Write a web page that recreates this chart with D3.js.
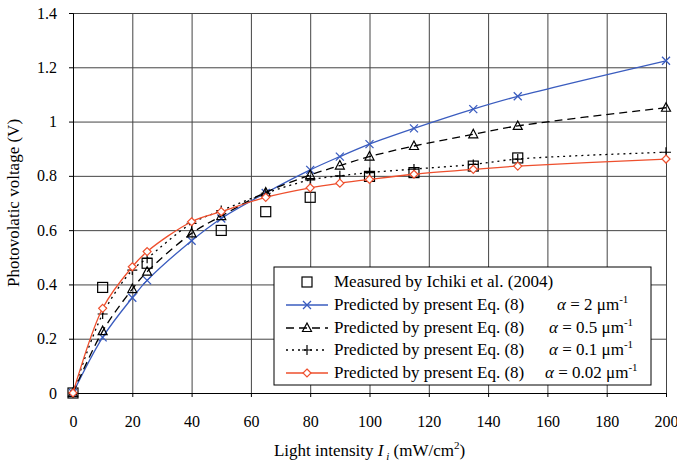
<!DOCTYPE html>
<html><head><meta charset="utf-8">
<script src="https://cdn.jsdelivr.net/npm/d3@7"></script>
<style>
  svg text, svg tspan { font-family: "Liberation Serif" !important; }
</style></head>
<body style="margin:0">
<div class="plot"></div>
<script>
// light intensity values (mW/cm2)
const xPred = [0, 10, 20, 25, 40, 50, 65, 80, 90, 100, 115, 135, 150, 200];
const xMeas = [0, 10, 25, 50, 65, 80, 100, 115, 135, 150];

// measured by Ichiki et al.
const measured = [0, 0.389, 0.478, 0.599, 0.668, 0.721, 0.798, 0.812, 0.836, 0.866];

// predicted, different alpha
const alpha2   = [0, 0.205, 0.351, 0.415, 0.561, 0.643, 0.737, 0.822, 0.871, 0.917, 0.975, 1.046, 1.093, 1.224];
const alpha05  = [0, 0.228, 0.383, 0.447, 0.588, 0.652, 0.739, 0.803, 0.838, 0.871, 0.910, 0.953, 0.984, 1.051];
const alpha01  = [0, 0.291, 0.453, 0.496, 0.625, 0.672, 0.736, 0.785, 0.800, 0.812, 0.825, 0.842, 0.862, 0.887];
const alpha002 = [0, 0.312, 0.465, 0.521, 0.631, 0.668, 0.721, 0.756, 0.773, 0.787, 0.806, 0.824, 0.836, 0.862];

const xTicks = [0, 20, 40, 60, 80, 100, 120, 140, 160, 180, 200];
const yTicks = [0, 0.2, 0.4, 0.6, 0.8, 1, 1.2, 1.4];

const serif = "Liberation Serif";
const W = 677, H = 466;
const margin = { top: 13, right: 11, bottom: 73, left: 73 };
const iw = W - margin.left - margin.right,
    ih = H - margin.top - margin.bottom;

const root = d3.select(".plot").append("svg").attr("width", W).attr("height", H);
const svg = root.append("g").attr("transform", "translate(" + margin.left + "," + margin.top + ")");

const xScale = d3.scaleLinear().domain([0, 200]).range([0, iw]);
const yScale = d3.scaleLinear().domain([0, 1.4]).range([ih, 0]);

// grid lines
svg.append("g")
    .attr("transform", "translate(0," + ih + ")")
    .call(d3.axisBottom(xScale).tickValues(xTicks).tickSize(-ih).tickFormat(""))
    .call(g => g.select(".domain").remove())
    .selectAll("line").attr("stroke", "#444");
svg.append("g")
    .call(d3.axisLeft(yScale).tickValues(yTicks).tickSize(-iw).tickFormat(""))
    .call(g => g.select(".domain").remove())
    .selectAll("line").attr("stroke", "#444");

// axes
const xAxis = svg.append("g")
    .attr("transform", "translate(0," + ih + ")")
    .call(d3.axisBottom(xScale).tickValues(xTicks).tickSize(4).tickPadding(19));
xAxis.attr("font-size", 16).attr("font-family", serif);
xAxis.selectAll("text").attr("fill", "#000");
xAxis.selectAll("line, path").attr("stroke", "#000");

const yAxis = svg.append("g")
    .call(d3.axisLeft(yScale).tickValues(yTicks).tickSize(4).tickPadding(12)
        .tickFormat(d => String(+d.toFixed(1))));
yAxis.attr("font-size", 16).attr("font-family", serif);
yAxis.selectAll("text").attr("fill", "#000");
yAxis.selectAll("line, path").attr("stroke", "#000");

// axis titles
const xt = svg.append("text")
    .attr("text-anchor", "middle")
    .attr("x", iw / 2)
    .attr("y", ih + 63)
    .attr("font-size", 17);
xt.append("tspan").text("Light intensity ");
xt.append("tspan").attr("font-style", "italic").text("I");
xt.append("tspan").attr("font-style", "italic").attr("font-size", 11).attr("dy", 4).text(" i");
xt.append("tspan").attr("dy", -4).text("  (mW/cm");
xt.append("tspan").attr("font-size", 11).attr("dy", -7).text("2");
xt.append("tspan").attr("dy", 7).text(")");

svg.append("text")
    .attr("text-anchor", "middle")
    .attr("transform", "translate(-54," + (ih / 2) + ") rotate(-90)")
    .attr("font-size", 17)
    .text("Photovolatic voltage (V)");

// series
const series = [
    { xs: xPred, ys: alpha2, color: "#3a5cbf", dash: null, marker: "cross", alphaText: "2" },
    { xs: xPred, ys: alpha05, color: "#000", dash: "8,5", marker: "triangle", alphaText: "0.5" },
    { xs: xPred, ys: alpha01, color: "#000", dash: "2,4", marker: "plus", alphaText: "0.1" },
    { xs: xPred, ys: alpha002, color: "#ee4f2d", dash: null, marker: "diamond", alphaText: "0.02" }
];

const line = d3.line()
    .x(d => xScale(d[0]))
    .y(d => yScale(d[1]))
    .curve(d3.curveCatmullRom.alpha(0.5));

function drawMarker(g, type, color) {
    if (type === "square") {
        g.append("rect").attr("x", -5).attr("y", -5).attr("width", 10).attr("height", 10)
            .attr("fill", "none").attr("stroke", "#000").attr("stroke-width", 1.2);
    } else if (type === "cross") {
        g.append("path").attr("d", "M-4,-4L4,4M-4,4L4,-4")
            .attr("stroke", color).attr("stroke-width", 1.3).attr("fill", "none");
    } else if (type === "triangle") {
        g.append("path").attr("d", "M0,-5L4.5,3.5L-4.5,3.5Z")
            .attr("stroke", color).attr("stroke-width", 1.2).attr("fill", "none");
    } else if (type === "plus") {
        g.append("path").attr("d", "M-5,0L5,0M0,-5L0,5")
            .attr("stroke", color).attr("stroke-width", 1.2).attr("fill", "none");
    } else if (type === "diamond") {
        g.append("path").attr("d", "M0,-4L4,0L0,4L-4,0Z")
            .attr("stroke", color).attr("stroke-width", 1.2).attr("fill", "#fff");
    }
}

// measured squares
xMeas.forEach(function(x, i) {
    const g = svg.append("g").attr("transform", "translate(" + xScale(x) + "," + yScale(measured[i]) + ")");
    drawMarker(g, "square", "#000");
});

series.forEach(function(s) {
    const pts = s.xs.map((x, i) => [x, s.ys[i]]);
    svg.append("path")
        .datum(pts)
        .attr("fill", "none")
        .attr("stroke", s.color)
        .attr("stroke-width", 1.3)
        .attr("stroke-dasharray", s.dash)
        .attr("d", line);
    pts.forEach(function(p) {
        const g = svg.append("g").attr("transform", "translate(" + xScale(p[0]) + "," + yScale(p[1]) + ")");
        drawMarker(g, s.marker, s.color);
    });
});

// legend
const legend = svg.append("g").attr("transform", "translate(" + (274 - margin.left) + "," + (267 - margin.top) + ")");
legend.append("rect")
    .attr("width", 377).attr("height", 118)
    .attr("fill", "#fff").attr("stroke", "#000").attr("stroke-width", 1);

const rowY = [15, 38, 61, 83, 106];
drawMarker(legend.append("g").attr("transform", "translate(33," + rowY[0] + ")"), "square", "#000");
legend.append("text").attr("x", 60).attr("y", rowY[0] + 5)
    .attr("font-size", 17)
    .text("Measured by Ichiki et al. (2004)");

const alphaX = [283, 275, 275, 271];
series.forEach(function(s, i) {
    const y = rowY[i + 1];
    legend.append("line").attr("x1", 12).attr("x2", 54).attr("y1", y).attr("y2", y)
        .attr("stroke", s.color).attr("stroke-width", 1.3).attr("stroke-dasharray", s.dash);
    drawMarker(legend.append("g").attr("transform", "translate(33," + y + ")"), s.marker, s.color);
    legend.append("text").attr("x", 60).attr("y", y + 5)
        .attr("font-size", 17)
        .text("Predicted by present Eq. (8)");
    const t = legend.append("text").attr("x", alphaX[i]).attr("y", y + 5)
        .attr("font-size", 17);
    t.append("tspan").attr("font-style", "italic").text("\u03b1");
    t.append("tspan").text(" = " + s.alphaText + " \u03bcm");
    t.append("tspan").attr("font-size", 11).attr("dy", -7).text("-1");
});

// force the serif face on every label
root.selectAll("text, tspan").style("font-family", serif, "important");
</script>
</body></html>
